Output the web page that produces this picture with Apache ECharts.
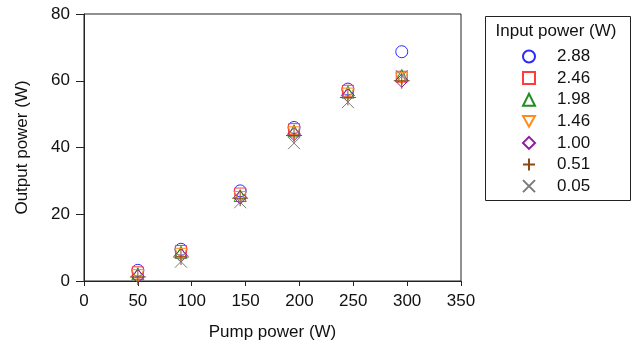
<!DOCTYPE html>
<html>
<head>
<meta charset="utf-8">
<script src="https://cdn.jsdelivr.net/npm/echarts@6/dist/echarts.min.js"></script>
<style>
  html, body { margin: 0; padding: 0; background: #fff; }
  #main { width: 632px; height: 344px; }
</style>
</head>
<body>
<div id="main"></div>
<script>
  // pump power (W) on x
  var pump = [50, 90, 145, 195, 245, 295];
  // output power (W) for each input power level
  var names = ['2.88', '2.46', '1.98', '1.46', '1.00', '0.51', '0.05'];
  var out288 = [3.2, 9.5, 27.0, 46.0, 57.5, 68.7];
  var out246 = [2.6, 9.0, 26.2, 45.5, 57.0, 61.2];
  var out198 = [2.2, 8.6, 25.6, 45.0, 56.6, 61.6];
  var out146 = [1.6, 8.0, 25.0, 44.4, 56.0, 60.6];
  var out100 = [1.4, 7.6, 25.0, 44.0, 55.6, 60.0];
  var out051 = [1.2, 7.2, 24.8, 43.6, 55.0, 60.0];
  var out005 = [-0.3, 5.8, 23.6, 41.3, 53.6, 61.4];

  var colors = ['#2a2aff', '#ff3b3b', '#1f8f1f', '#ff8c1a', '#8e1a9e', '#8b4a14', '#7a7a7a'];
  var symbols = [
    'circle',
    'rect',
    'triangle',
    'path://M-1,-0.9L1,-0.9L0,0.9Z',
    'diamond',
    'path://M0,-1L0,1M-1,0L1,0',
    'path://M-1,-1L1,1M-1,1L1,-1'
  ];
  var sizes = [12, 11, 12, 12, 13, 16, 12];
  var allData = [out288, out246, out198, out146, out100, out051, out005];

  var myChart = echarts.init(document.getElementById('main'));

  var series = [];
  for (var i = allData.length - 1; i >= 0; i--) {
    series.push({
      name: names[i],
      type: 'scatter',
      symbol: symbols[i],
      symbolSize: sizes[i],
      data: pump.map(function (p, k) { return [p, allData[i][k]]; }),
      itemStyle: { color: 'rgba(0,0,0,0)', borderColor: colors[i], borderWidth: 1, opacity: 1 },
      z: 2 + i
    });
  }

  var font = 'Liberation Sans, Arial, sans-serif';

  var option = {
    animation: false,
    grid: { left: 84, right: 171, top: 14, bottom: 63, show: true, borderColor: '#222', borderWidth: 1,
      outerBoundsMode: 'none' },
    xAxis: {
      type: 'value', min: 0, max: 350, interval: 50,
      name: 'Pump power (W)', nameLocation: 'middle', nameGap: 43,
      nameTextStyle: { fontFamily: font, fontSize: 17, color: '#111' },
      axisLine: { lineStyle: { color: '#222' } },
      axisTick: { length: 5, lineStyle: { color: '#222' } },
      axisLabel: { fontFamily: font, fontSize: 17, color: '#111', margin: 12 },
      splitLine: { show: false }
    },
    yAxis: {
      type: 'value', min: 0, max: 80, interval: 20,
      name: 'Output power (W)', nameLocation: 'middle', nameGap: 53,
      nameTextStyle: { fontFamily: font, fontSize: 17, color: '#111' },
      axisLine: { show: true, lineStyle: { color: '#222' } },
      axisTick: { show: true, length: 8, lineStyle: { color: '#222' } },
      axisLabel: { fontFamily: font, fontSize: 17, color: '#111', margin: 14 },
      splitLine: { show: false }
    },
    legend: {
      data: names,
      orient: 'vertical',
      left: 517, top: 43,
      itemWidth: 12, itemHeight: 12,
      itemGap: 4.6,
      textStyle: { fontFamily: font, fontSize: 17, color: '#111', padding: [0, 0, 0, 17] }
    },
    graphic: [
      { type: 'rect', left: 483, top: 14, shape: { width: 145, height: 184 },
        style: { fill: 'none', stroke: '#222', lineWidth: 1 } },
      { type: 'text', x: 556, y: 23,
        style: { text: 'Input power (W)', font: '17px ' + font, fill: '#111', textAlign: 'center' } }
    ],
    series: series
  };

  myChart.setOption(option);
</script>
</body>
</html>
